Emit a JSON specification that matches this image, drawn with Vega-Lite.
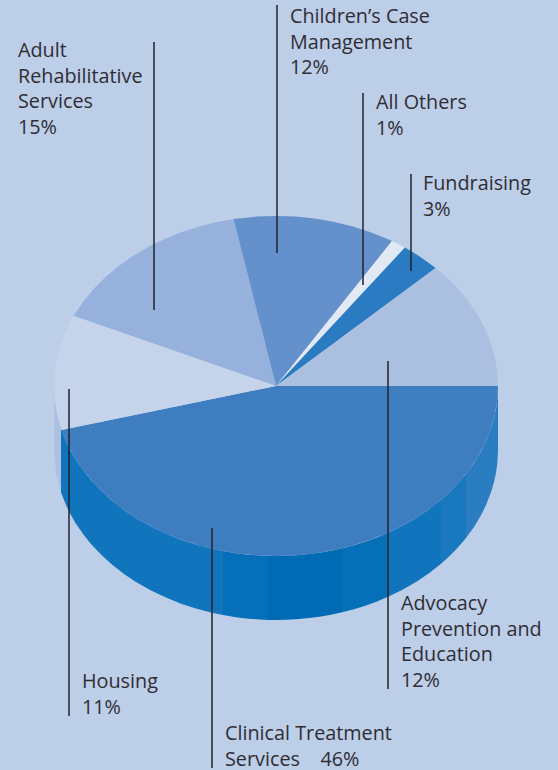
{"$schema":"https://vega.github.io/schema/vega-lite/v6.json","width":558,"height":770,"padding":0,"autosize":{"type":"fit","contains":"padding"},"background":"#bdcee8","view":{"stroke":null},
"datasets":{
"wall":[
{"band":"edge","x":-222,"y":0,"y2":-64},{"band":"edge","x":-220,"y":0,"y2":-87},{"band":"edge","x":-215,"y":0,"y2":-106},
{"band":"w1","x":-215,"y":-42.3,"y2":-106.3},{"band":"w1","x":-210,"y":-55.1,"y2":-119.1},{"band":"w1","x":-205,"y":-65.2,"y2":-129.2},{"band":"w1","x":-200,"y":-73.7,"y2":-137.7},{"band":"w1","x":-192,"y":-85.3,"y2":-149.3},{"band":"w1","x":-185,"y":-94,"y2":-158},{"band":"w1","x":-175,"y":-104.6,"y2":-168.6},{"band":"w1","x":-165,"y":-113.7,"y2":-177.7},{"band":"w1","x":-152,"y":-124,"y2":-188},{"band":"w1","x":-140,"y":-131.9,"y2":-195.9},{"band":"w1","x":-125,"y":-140.5,"y2":-204.5},{"band":"w1","x":-110,"y":-147.6,"y2":-211.6},{"band":"w1","x":-95,"y":-153.7,"y2":-217.7},{"band":"w1","x":-80,"y":-158.6,"y2":-222.6},{"band":"w1","x":-65,"y":-162.5,"y2":-226.5},{"band":"w1","x":-53,"y":-165.1,"y2":-229.1},
{"band":"w2","x":-53,"y":-165.1,"y2":-229.1},{"band":"w2","x":-40,"y":-167.2,"y2":-231.2},{"band":"w2","x":-30,"y":-168.4,"y2":-232.4},{"band":"w2","x":-20,"y":-169.3,"y2":-233.3},{"band":"w2","x":-8,"y":-169.9,"y2":-233.9},
{"band":"w3","x":-8,"y":-169.9,"y2":-233.9},{"band":"w3","x":0,"y":-170,"y2":-234},{"band":"w3","x":10,"y":-169.8,"y2":-233.8},{"band":"w3","x":20,"y":-169.3,"y2":-233.3},{"band":"w3","x":33,"y":-168.1,"y2":-232.1},{"band":"w3","x":45,"y":-166.5,"y2":-230.5},{"band":"w3","x":56,"y":-164.5,"y2":-228.5},{"band":"w3","x":66,"y":-162.3,"y2":-226.3},
{"band":"w4","x":66,"y":-162.3,"y2":-226.3},{"band":"w4","x":78,"y":-159.2,"y2":-223.2},{"band":"w4","x":90,"y":-155.4,"y2":-219.4},{"band":"w4","x":101,"y":-151.4,"y2":-215.4},{"band":"w4","x":112,"y":-146.8,"y2":-210.8},
{"band":"w5","x":112,"y":-146.8,"y2":-210.8},{"band":"w5","x":126,"y":-139.9,"y2":-203.9},{"band":"w5","x":140,"y":-131.9,"y2":-195.9},{"band":"w5","x":153,"y":-123.2,"y2":-187.2},{"band":"w5","x":165,"y":-113.7,"y2":-177.7},
{"band":"w6","x":165,"y":-113.7,"y2":-177.7},{"band":"w6","x":172,"y":-107.5,"y2":-171.5},{"band":"w6","x":180,"y":-99.5,"y2":-163.5},{"band":"w6","x":190,"y":-88,"y2":-152},
{"band":"w7","x":190,"y":-88,"y2":-152},{"band":"w7","x":198,"y":-76.9,"y2":-140.9},{"band":"w7","x":205,"y":-65.2,"y2":-129.2},{"band":"w7","x":210,"y":-55.1,"y2":-119.1},{"band":"w7","x":215,"y":-42.3,"y2":-106.3},{"band":"w7","x":218,"y":-32.1,"y2":-96.1},{"band":"w7","x":220,"y":-22.8,"y2":-86.8},{"band":"w7","x":221.5,"y":-11.4,"y2":-75.4},{"band":"w7","x":222,"y":0,"y2":-64}
],
"slices":[
{"name":"Clinical Treatment Services","angle":-1,"x":0,"y":0},{"name":"Clinical Treatment Services","angle":0,"x":222,"y":0},{"name":"Clinical Treatment Services","angle":5,"x":221.2,"y":-14.8},{"name":"Clinical Treatment Services","angle":10,"x":218.6,"y":-29.5},{"name":"Clinical Treatment Services","angle":15,"x":214.4,"y":-44},{"name":"Clinical Treatment Services","angle":20,"x":208.6,"y":-58.1},{"name":"Clinical Treatment Services","angle":25,"x":201.2,"y":-71.8},{"name":"Clinical Treatment Services","angle":30,"x":192.3,"y":-85},{"name":"Clinical Treatment Services","angle":35,"x":181.9,"y":-97.5},{"name":"Clinical Treatment Services","angle":40,"x":170.1,"y":-109.3},{"name":"Clinical Treatment Services","angle":45,"x":157,"y":-120.2},{"name":"Clinical Treatment Services","angle":50,"x":142.7,"y":-130.2},{"name":"Clinical Treatment Services","angle":55,"x":127.3,"y":-139.3},{"name":"Clinical Treatment Services","angle":60,"x":111,"y":-147.2},{"name":"Clinical Treatment Services","angle":65,"x":93.8,"y":-154.1},{"name":"Clinical Treatment Services","angle":70,"x":75.9,"y":-159.7},{"name":"Clinical Treatment Services","angle":75,"x":57.5,"y":-164.2},{"name":"Clinical Treatment Services","angle":80,"x":38.5,"y":-167.4},{"name":"Clinical Treatment Services","angle":85,"x":19.3,"y":-169.4},{"name":"Clinical Treatment Services","angle":90,"x":0,"y":-170},{"name":"Clinical Treatment Services","angle":95,"x":-19.3,"y":-169.4},{"name":"Clinical Treatment Services","angle":100,"x":-38.5,"y":-167.4},{"name":"Clinical Treatment Services","angle":105,"x":-57.5,"y":-164.2},{"name":"Clinical Treatment Services","angle":110,"x":-75.9,"y":-159.7},{"name":"Clinical Treatment Services","angle":115,"x":-93.8,"y":-154.1},{"name":"Clinical Treatment Services","angle":120,"x":-111,"y":-147.2},{"name":"Clinical Treatment Services","angle":125,"x":-127.3,"y":-139.3},{"name":"Clinical Treatment Services","angle":130,"x":-142.7,"y":-130.2},{"name":"Clinical Treatment Services","angle":135,"x":-157,"y":-120.2},{"name":"Clinical Treatment Services","angle":140,"x":-170.1,"y":-109.3},{"name":"Clinical Treatment Services","angle":145,"x":-181.9,"y":-97.5},{"name":"Clinical Treatment Services","angle":150,"x":-192.3,"y":-85},{"name":"Clinical Treatment Services","angle":155,"x":-201.2,"y":-71.8},{"name":"Clinical Treatment Services","angle":160,"x":-208.6,"y":-58.1},{"name":"Clinical Treatment Services","angle":165,"x":-214.4,"y":-44},
{"name":"Housing","angle":-1,"x":0,"y":0},{"name":"Housing","angle":165,"x":-214.4,"y":-44},{"name":"Housing","angle":170,"x":-218.6,"y":-29.5},{"name":"Housing","angle":175,"x":-221.2,"y":-14.8},{"name":"Housing","angle":180,"x":-222,"y":0},{"name":"Housing","angle":185,"x":-221.2,"y":14.8},{"name":"Housing","angle":190,"x":-218.6,"y":29.5},{"name":"Housing","angle":195,"x":-214.4,"y":44},{"name":"Housing","angle":200,"x":-208.6,"y":58.1},{"name":"Housing","angle":204.4,"x":-202.2,"y":70.2},
{"name":"Adult Rehabilitative Services","angle":-1,"x":0,"y":0},{"name":"Adult Rehabilitative Services","angle":204.4,"x":-202.2,"y":70.2},{"name":"Adult Rehabilitative Services","angle":210,"x":-192.3,"y":85},{"name":"Adult Rehabilitative Services","angle":215,"x":-181.9,"y":97.5},{"name":"Adult Rehabilitative Services","angle":220,"x":-170.1,"y":109.3},{"name":"Adult Rehabilitative Services","angle":225,"x":-157,"y":120.2},{"name":"Adult Rehabilitative Services","angle":230,"x":-142.7,"y":130.2},{"name":"Adult Rehabilitative Services","angle":235,"x":-127.3,"y":139.3},{"name":"Adult Rehabilitative Services","angle":240,"x":-111,"y":147.2},{"name":"Adult Rehabilitative Services","angle":245,"x":-93.8,"y":154.1},{"name":"Adult Rehabilitative Services","angle":250,"x":-75.9,"y":159.7},{"name":"Adult Rehabilitative Services","angle":255,"x":-57.5,"y":164.2},{"name":"Adult Rehabilitative Services","angle":259,"x":-42.4,"y":166.9},
{"name":"Children’s Case Management","angle":-1,"x":0,"y":0},{"name":"Children’s Case Management","angle":259,"x":-42.4,"y":166.9},{"name":"Children’s Case Management","angle":265,"x":-19.3,"y":169.4},{"name":"Children’s Case Management","angle":270,"x":0,"y":170},{"name":"Children’s Case Management","angle":275,"x":19.3,"y":169.4},{"name":"Children’s Case Management","angle":280,"x":38.5,"y":167.4},{"name":"Children’s Case Management","angle":285,"x":57.5,"y":164.2},{"name":"Children’s Case Management","angle":290,"x":75.9,"y":159.7},{"name":"Children’s Case Management","angle":295,"x":93.8,"y":154.1},{"name":"Children’s Case Management","angle":300,"x":111,"y":147.2},{"name":"Children’s Case Management","angle":301.5,"x":116,"y":144.9},
{"name":"All Others","angle":-1,"x":0,"y":0},{"name":"All Others","angle":301.5,"x":116,"y":144.9},{"name":"All Others","angle":305.5,"x":128.9,"y":138.4},
{"name":"Fundraising","angle":-1,"x":0,"y":0},{"name":"Fundraising","angle":305.5,"x":128.9,"y":138.4},{"name":"Fundraising","angle":310,"x":142.7,"y":130.2},{"name":"Fundraising","angle":316,"x":159.7,"y":118.1},
{"name":"Advocacy Prevention and Education","angle":-1,"x":0,"y":0},{"name":"Advocacy Prevention and Education","angle":316,"x":159.7,"y":118.1},{"name":"Advocacy Prevention and Education","angle":320,"x":170.1,"y":109.3},{"name":"Advocacy Prevention and Education","angle":325,"x":181.9,"y":97.5},{"name":"Advocacy Prevention and Education","angle":330,"x":192.3,"y":85},{"name":"Advocacy Prevention and Education","angle":335,"x":201.2,"y":71.8},{"name":"Advocacy Prevention and Education","angle":340,"x":208.6,"y":58.1},{"name":"Advocacy Prevention and Education","angle":345,"x":214.4,"y":44},{"name":"Advocacy Prevention and Education","angle":350,"x":218.6,"y":29.5},{"name":"Advocacy Prevention and Education","angle":355,"x":221.2,"y":14.8},{"name":"Advocacy Prevention and Education","angle":360,"x":222,"y":0}
],
"labels":[
{"name":"Adult Rehabilitative Services","share":15,"label":"Adult\nRehabilitative\nServices\n15%","tx":-258,"ty":329,"lx":-122,"l1":344,"l2":76},
{"name":"Children’s Case Management","share":12,"label":"Children’s Case\nManagement\n12%","tx":14,"ty":363,"lx":1,"l1":381,"l2":133},
{"name":"All Others","share":1,"label":"All Others\n1%","tx":100,"ty":277,"lx":87,"l1":293,"l2":101},
{"name":"Fundraising","share":3,"label":"Fundraising\n3%","tx":147,"ty":196,"lx":135,"l1":212,"l2":115},
{"name":"Advocacy Prevention and Education","share":12,"label":"Advocacy\nPrevention and\nEducation\n12%","tx":125,"ty":-224,"lx":112,"l1":25,"l2":-303},
{"name":"Clinical Treatment Services","share":46,"label":"Clinical Treatment\nServices\u00a0\u00a0\u00a0\u00a046%","tx":-51,"ty":-354,"lx":-64,"l1":-142,"l2":-382},
{"name":"Housing","share":11,"label":"Housing\n11%","tx":-194,"ty":-302,"lx":-207,"l1":-3,"l2":-330}
]},
"encoding":{},
"layer":[
{"data":{"name":"wall"},"mark":{"type":"area","stroke":null,"interpolate":"linear"},
"encoding":{"x":{"field":"x","type":"quantitative","scale":{"domain":[-276,282],"nice":false,"zero":false},"axis":null},
"y":{"field":"y","type":"quantitative","scale":{"domain":[-384,386],"nice":false,"zero":false},"axis":null},
"y2":{"field":"y2"},
"fill":{"field":"band","type":"nominal","legend":null,"scale":{"domain":["edge","w1","w2","w3","w4","w5","w6","w7"],"range":["#adc1e2","#1075bc","#056fb9","#006bb5","#056fb8","#1075bc","#1a78bf","#2a7dc1"]}}}},
{"data":{"name":"slices"},"mark":{"type":"line","filled":true,"strokeWidth":0,"interpolate":"linear"},
"encoding":{"x":{"field":"x","type":"quantitative"},"y":{"field":"y","type":"quantitative"},"order":{"field":"angle","type":"quantitative"},
"fill":{"field":"name","type":"nominal","legend":null,"scale":{"domain":["Clinical Treatment Services","Housing","Adult Rehabilitative Services","Children’s Case Management","All Others","Fundraising","Advocacy Prevention and Education"],"range":["#3f7dc1","#c5d3eb","#96b1dc","#6491cc","#e1e9f5","#2a7bc1","#abbfe0"]}}}},
{"data":{"name":"labels"},"mark":{"type":"rule","color":"#222228","strokeWidth":1.5},
"encoding":{"x":{"field":"lx","type":"quantitative"},"y":{"field":"l1","type":"quantitative"},"y2":{"field":"l2"}}},
{"data":{"name":"labels"},"mark":{"type":"text","align":"left","baseline":"alphabetic","font":"Open Sans","fontSize":19.8,"lineHeight":25.5,"lineBreak":"\n","color":"#2f2d33"},
"encoding":{"x":{"field":"tx","type":"quantitative"},"y":{"field":"ty","type":"quantitative"},"text":{"field":"label"}}}
],
"resolve":{"scale":{"fill":"independent"}}}
